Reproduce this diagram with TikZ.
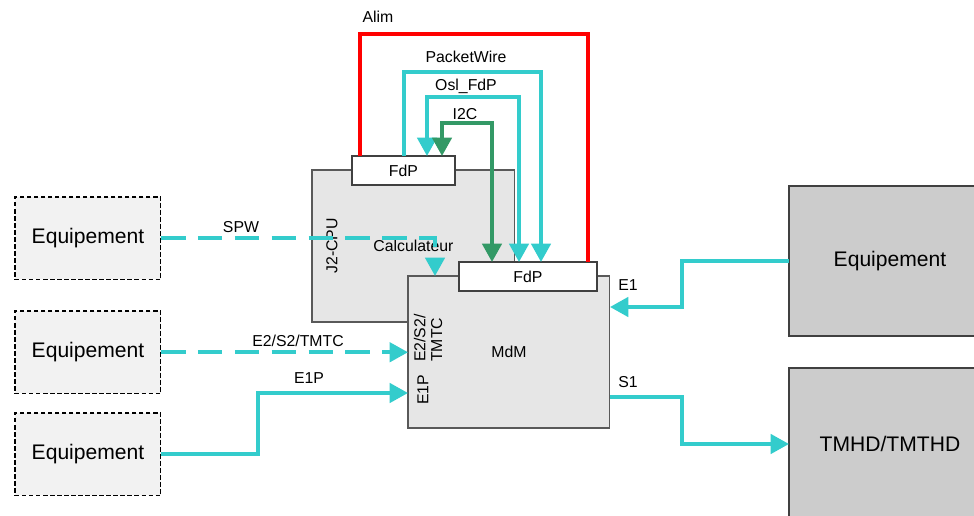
\documentclass[tikz,border=0pt]{standalone}
\usepackage{fontspec}
\setmainfont{Liberation Sans}
\usetikzlibrary{arrows.meta,calc}

\definecolor{turq}{HTML}{33CCCC}
\definecolor{vert}{HTML}{339966}
\definecolor{fondA}{HTML}{E6E6E6}
\definecolor{fondB}{HTML}{F2F2F2}
\definecolor{fondC}{HTML}{CCCCCC}

\begin{document}
\begin{tikzpicture}[x=0.02cm, y=-0.02cm,
    >={Triangle[length=10.5pt 0 0,width=11pt 0 0]},
    boite/.style={draw=black!65, fill=fondA, line width=0.6pt, inner sep=0pt, outer sep=0pt,
        anchor=north west, font=\fontsize{9}{10}\selectfont},
    fdp/.style={boite, fill=white, draw=black!75},
    equip/.style={draw=black, fill=fondB, dash pattern=on 2.5pt off 1.5pt, line width=0.6pt,
        inner sep=0pt, outer sep=0pt, anchor=north west, minimum width=2.92cm,
        minimum height=1.65cm, font=\fontsize{12}{14}\selectfont},
    equipG/.style={draw=black!75, fill=fondC, line width=0.6pt, inner sep=0pt, outer sep=0pt,
        anchor=north west, minimum width=4.04cm, font=\fontsize{12}{14}\selectfont},
    lien/.style={line width=2.2pt, draw=turq},
    pointille/.style={lien, dash pattern=on 14pt off 7pt},
    bus/.style={line width=2.2pt, draw=vert},
    alim/.style={line width=2.2pt, draw=red},
    lbl/.style={font=\fontsize{9}{9.5}\selectfont, inner sep=0pt},
]
    \useasboundingbox (0,0) rectangle (974,515);

    % ブロック
    \node[boite, minimum width=4.06cm, minimum height=3.04cm] (cpu) at (312,170) {Calculateur};
    \node[fdp, minimum width=2.06cm, minimum height=0.58cm] (fdpA) at (352,156) {FdP};
    \node[boite, minimum width=4.04cm, minimum height=3.04cm] (mdm) at (408,276) {MdM};
    \node[fdp, minimum width=2.76cm, minimum height=0.58cm] (fdpB) at (459,262) {FdP};

    \node[equip] (eqA) at (15,197) {Equipement};
    \node[equip] (eqB) at (15,311) {Equipement};
    \node[equip] (eqC) at (15,413) {Equipement};
    \node[equipG, minimum height=3cm] (eqD) at (789,186) {Equipement};
    \node[equipG, minimum height=3.04cm] (tm) at (789,368) {TMHD/TMTHD};

    % 縦書きのラベル
    \node[lbl, rotate=90] (cpuNom) at (332,246) {J2-CPU};
    \node[lbl, rotate=90, align=left] (mdmE2) at (428,338) {E2/S2/\\TMTC};
    \node[lbl, rotate=90] (mdmE1P) at (423,390) {E1P};

    % 角の座標
    \coordinate (alimH) at (588,34);
    \coordinate (pwH) at (541,72);
    \coordinate (oslH) at (427,97);
    \coordinate (i2cH) at (492,123);

    % FdP 間の線
    \draw[alim] ($(fdpA.north west)+(8,0)$) |- (alimH) -- ($(fdpB.north west)+(129,0)$);
    \draw[lien,->] ($(fdpA.north west)+(52,0)$) |- (pwH) -- ($(fdpB.north west)+(82,0)$);
    \draw[lien,<->] ($(fdpB.north west)+(60,0)$) |- (oslH) -- ($(fdpA.north west)+(75,0)$);
    \draw[bus,<->] ($(fdpA.north west)+(90,0)$) |- (i2cH) -- ($(fdpB.north west)+(33,0)$);

    % 外部との線
    \draw[pointille,->] (eqA.east) -| ($(mdm.north west)+(27,0)$);
    \draw[pointille,->] (eqB.east) -- (eqB.east -| mdm.west);
    \draw[lien,->] (eqC.east) -- ++(97,0) |- ($(mdm.west)+(0,41)$);
    \draw[lien,->] (eqD.west) -- ++(-107,0) |- ($(mdm.east)+(0,-45)$);
    \draw[lien,->] ($(mdm.east)+(0,45)$) -- ++(72,0) |- (tm.west);

    % 線のラベル
    \node[lbl] (alimTxt) at (378,17) {Alim};
    \node[lbl] (pwTxt) at (466,57) {PacketWire};
    \node[lbl] (oslTxt) at (466,86) {Osl\_FdP};
    \node[lbl] (i2cTxt) at (465,114) {I2C};
    \node[lbl] (spwTxt) at (241,227) {SPW};
    \node[lbl] (e2Txt) at (298,341) {E2/S2/TMTC};
    \node[lbl] (e1pTxt) at (309,378) {E1P};
    \node[lbl] (e1Txt) at (628,285) {E1};
    \node[lbl] (s1Txt) at (628,382) {S1};

\end{tikzpicture}
\end{document}
